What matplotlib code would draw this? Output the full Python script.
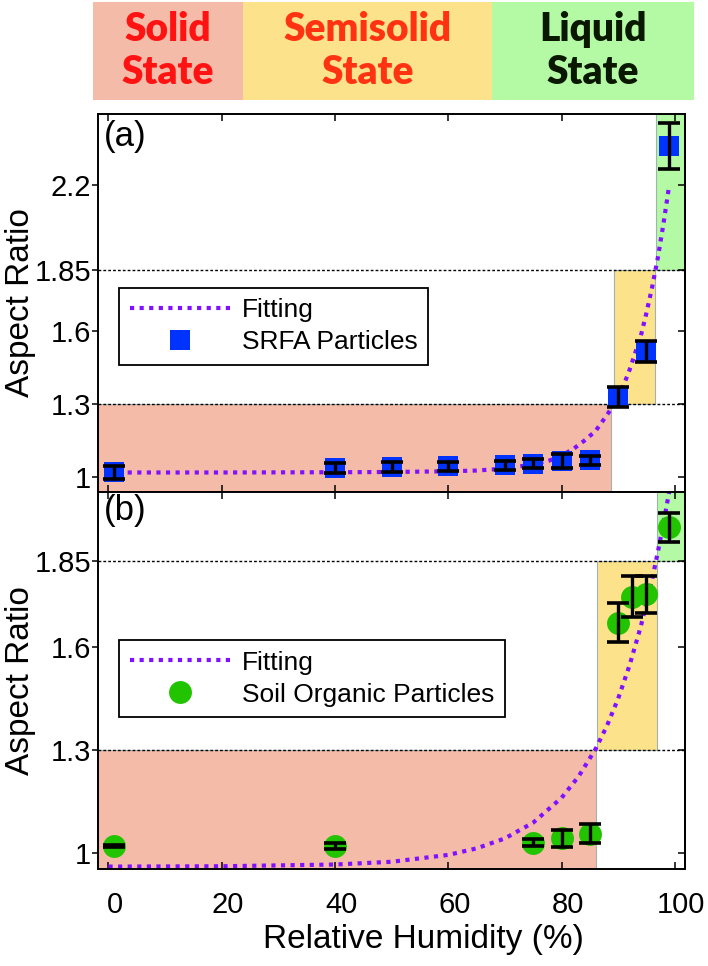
import matplotlib
matplotlib.use('Agg')
import matplotlib.pyplot as plt
import matplotlib.transforms as mtransforms
from matplotlib.patches import Rectangle

plt.rcParams['font.family'] = ['Liberation Sans', 'DejaVu Sans']

# --- data ---
states = ['Solid\nState', 'Semisolid\nState', 'Liquid\nState']
state_text_colors = ['#FF1212', '#FF3311', '#0A1800']
state_fill = ['#F4BBA8', '#FDE28C', '#B4F9A4']

rh_ticks = [0, 20, 40, 60, 80, 100]
thresholds = [1.3, 1.85]

# (a) SRFA
rh_a = [1, 40, 50, 60, 70, 75, 80, 85, 90, 95, 99]
ar_a = [1.02, 1.037, 1.043, 1.045, 1.049, 1.056, 1.067, 1.07, 1.33, 1.515, 2.36]
err_a = [0.025, 0.02, 0.02, 0.02, 0.017, 0.019, 0.028, 0.019, 0.04, 0.043, 0.095]
fit_a_rh = [0, 20, 40, 50, 60, 65, 70, 75, 78, 80, 82, 84, 86, 88, 89, 90,
            91, 92, 93, 94, 95, 96, 97, 98, 98.9]
fit_a_ar = [1.02, 1.02, 1.021, 1.022, 1.025, 1.028, 1.036, 1.053, 1.07, 1.09,
            1.115, 1.15, 1.19, 1.255, 1.29, 1.33, 1.38, 1.44, 1.51, 1.58,
            1.675, 1.78, 1.9, 2.04, 2.18]
yticks_a = [1, 1.3, 1.6, 1.85, 2.2]
ylim_a = (0.94, 2.49)
bounds_a = [88.8, 89.3, 96.5, 96.7]   # solid end, semi start, semi end, liquid start

# (b) soil organic
rh_b = [1, 40, 75, 80, 85, 90, 92.5, 95, 99]
ar_b = [1.02, 1.02, 1.03, 1.042, 1.056, 1.67, 1.745, 1.752, 1.947]
err_b = [0.003, 0.01, 0.01, 0.025, 0.028, 0.056, 0.06, 0.055, 0.042]
fit_b_rh = [0, 20, 40, 50, 60, 65, 70, 75, 80, 83, 86, 88, 90, 92, 94, 96, 97, 98, 99]
fit_b_ar = [0.96, 0.961, 0.966, 0.974, 0.994, 1.013, 1.042, 1.088, 1.16, 1.222,
            1.302, 1.369, 1.449, 1.545, 1.659, 1.796, 1.875, 1.959, 2.05]
yticks_b = [1, 1.3, 1.6, 1.85]
ylim_b = (0.953, 2.05)
bounds_b = [86.1, 86.2, 96.8, 96.9]

XLIM = (-1.85, 101.8)
FIT_COLOR = '#8010FF'

fig = plt.figure(figsize=(7.08, 9.66), dpi=100)

# banner on top
ban = fig.add_axes([93 / 708, 1 - 100 / 966, 601 / 708, 98 / 966])
ban.set_xlim(0, 601)
ban.set_ylim(0, 1)
ban.axis('off')
edges = [0, 150, 399, 601]
for i, lab in enumerate(states):
    ban.add_patch(Rectangle((edges[i], 0), edges[i + 1] - edges[i], 1,
                            facecolor=state_fill[i], edgecolor='none'))
    ban.text((edges[i] + edges[i + 1]) / 2, 0.5, lab, ha='center', va='center',
             color=state_text_colors[i], fontsize=28, fontweight='heavy',
             family='Lato', linespacing=1.2)


def draw_panel(ax, rh, ar, err, fit_rh, fit_ar, yticks, ylim, bounds,
               marker, mcolor, msize, label, tag, leg_anchor):
    ax.set_xlim(*XLIM)
    ax.set_ylim(*ylim)
    x0, x1 = XLIM
    y0, y1 = ylim
    lo, hi = thresholds
    ax.add_patch(Rectangle((x0, y0), bounds[0] - x0, lo - y0, facecolor=state_fill[0],
                           edgecolor='#9FB3B3', lw=0.8, zorder=0))
    ax.add_patch(Rectangle((bounds[1], lo), bounds[2] - bounds[1], hi - lo,
                           facecolor=state_fill[1], edgecolor='#9FB3B3', lw=0.8, zorder=0))
    ax.add_patch(Rectangle((bounds[3], hi), x1 - bounds[3], y1 - hi,
                           facecolor=state_fill[2], edgecolor='#9FB3B3', lw=0.8, zorder=0))
    for t in thresholds:
        ax.axhline(t, color='black', lw=1.0, ls=(0, (2, 1.5)), zorder=1)

    ax.plot(fit_rh, fit_ar, ls=(0, (1, 1.3)), color=FIT_COLOR, lw=3, zorder=2,
            label='Fitting')
    ax.plot(rh, ar, ls='none', marker=marker, color=mcolor, ms=msize, mew=0,
            zorder=3, label=label)
    ax.errorbar(rh, ar, yerr=err, fmt='none', ecolor='black', elinewidth=2.4,
                capsize=8, capthick=2.6, zorder=4)

    ax.set_yticks(yticks)
    ax.set_yticklabels([('%g' % v) for v in yticks])
    ax.set_xticks(rh_ticks)
    ax.tick_params(axis='y', direction='out', length=4, width=1.1, labelsize=21, pad=1)
    ax.tick_params(axis='x', direction='in', length=5, width=1.1, labelsize=21,
                   top=True, pad=16)
    sec = ax.secondary_yaxis('right')
    sec.set_yticks(yticks)
    sec.tick_params(direction='in', length=5, width=1.1, labelright=False)
    for sp in list(ax.spines.values()) + [sec.spines['right']]:
        sp.set_linewidth(1.4)

    ax.set_ylabel('Aspect Ratio', fontsize=24)
    ax.yaxis.set_label_coords(-0.105, 0.5)
    ax.text(0.01, 0.985 if tag == '(a)' else 0.995, tag, transform=ax.transAxes,
            fontsize=25, ha='left', va='top')

    leg = ax.legend(loc='upper left', bbox_to_anchor=leg_anchor, borderaxespad=0,
                    fontsize=19, frameon=True, fancybox=False, framealpha=1,
                    edgecolor='black', handlelength=3.8, handletextpad=0.45,
                    labelspacing=0.3, borderpad=0.4, markerscale=1.0,
                    numpoints=1)
    leg.get_frame().set_linewidth(1.3)


ax_a = fig.add_axes([98 / 708, 1 - 492 / 966, 587 / 708, 378 / 966])
ax_b = fig.add_axes([98 / 708, 1 - 869 / 966, 587 / 708, 377 / 966])

draw_panel(ax_a, rh_a, ar_a, err_a, fit_a_rh, fit_a_ar, yticks_a, ylim_a, bounds_a,
           's', '#0033FF', 14, 'SRFA Particles', '(a)', (0.036, 0.54))
draw_panel(ax_b, rh_b, ar_b, err_b, fit_b_rh, fit_b_ar, yticks_b, ylim_b, bounds_b,
           'o', '#22C400', 16.5, 'Soil Organic Particles', '(b)', (0.036, 0.607))

ax_a.tick_params(axis='x', labelbottom=False)
ax_b.set_xlabel('Relative Humidity (%)', fontsize=24)
ax_b.xaxis.set_label_coords(0.555, -0.145)

shift = mtransforms.ScaledTranslation(6 / 100, 0, fig.dpi_scale_trans)
for lab in ax_b.get_xticklabels():
    lab.set_transform(lab.get_transform() + shift)

fig.savefig('out.png', dpi=100)
